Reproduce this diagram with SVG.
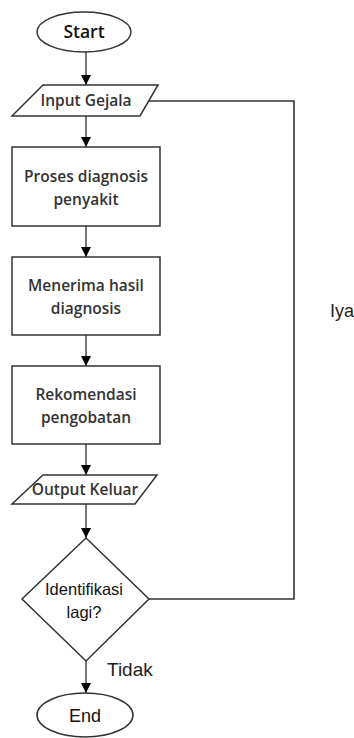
<svg xmlns="http://www.w3.org/2000/svg" width="354" height="738" viewBox="0 0 354 738">
<style>
.shape{fill:#fff;stroke:#333;stroke-width:1.5}
.conn{fill:none;stroke:#555;stroke-width:1.6}
.bt{font-family:"Open Sans",sans-serif;font-weight:600;font-size:15.5px;fill:#333;text-anchor:middle}
.big{font-family:"Open Sans",sans-serif;font-weight:600;font-size:17.5px;fill:#111;text-anchor:middle}
.rt{font-family:"Liberation Sans",Arial,sans-serif;font-size:16.5px;fill:#111;text-anchor:middle}
.lbl{font-family:"Liberation Sans",Arial,sans-serif;font-size:19px;fill:#222}
</style>
<defs>
<marker id="arr" viewBox="0 0 10 10" refX="10" refY="5" markerWidth="10" markerHeight="10" markerUnits="userSpaceOnUse" orient="auto">
<path d="M0,0 L10,5 L0,10 Z" fill="#000"/>
</marker>
</defs>
<g id="connectors">
<line class="conn" x1="86" y1="52" x2="86" y2="85" marker-end="url(#arr)"/>
<line class="conn" x1="86" y1="116" x2="86" y2="147" marker-end="url(#arr)"/>
<line class="conn" x1="86" y1="226" x2="86" y2="257" marker-end="url(#arr)"/>
<line class="conn" x1="86" y1="335" x2="86" y2="366" marker-end="url(#arr)"/>
<line class="conn" x1="86" y1="444" x2="86" y2="475" marker-end="url(#arr)"/>
<line class="conn" x1="86" y1="504" x2="86" y2="538" marker-end="url(#arr)"/>
<line class="conn" x1="86" y1="661" x2="86" y2="693" marker-end="url(#arr)"/>
<polyline class="conn" style="stroke:#333" points="149,599 294,599 294,101 149,101"/>
<text class="lbl" x="107" y="676">Tidak</text>
<text class="lbl" x="330" y="317" style="font-size:18px">Iya</text>
</g>
<g id="start">
<ellipse class="shape" cx="84" cy="32" rx="47" ry="20"/>
<text class="big" x="84" y="38">Start</text>
</g>
<g id="input">
<polygon class="shape" points="43,85 158,85 140,116 12,116"/>
<text class="bt" x="86" y="106">Input Gejala</text>
</g>
<g id="proses">
<rect class="shape" x="12" y="147" width="148" height="79"/>
<text class="bt" x="86" y="182">Proses diagnosis</text>
<text class="bt" x="86" y="205">penyakit</text>
</g>
<g id="menerima">
<rect class="shape" x="12" y="257" width="148" height="78"/>
<text class="bt" x="86" y="291">Menerima hasil</text>
<text class="bt" x="86" y="314">diagnosis</text>
</g>
<g id="rekomendasi">
<rect class="shape" x="12" y="366" width="148" height="78"/>
<text class="bt" x="86" y="400">Rekomendasi</text>
<text class="bt" x="86" y="423">pengobatan</text>
</g>
<g id="output">
<polygon class="shape" points="43,475 157,475 135,504 12,504"/>
<text class="bt" x="85" y="495">Output Keluar</text>
</g>
<g id="decision">
<polygon class="shape" points="86,538 149,599 86,661 22,599"/>
<text class="rt" x="84" y="595">Identifikasi</text>
<text class="rt" x="84" y="618">lagi?</text>
</g>
<g id="end">
<ellipse class="shape" cx="85" cy="715" rx="48" ry="22"/>
<text class="rt" x="85" y="722" style="font-size:18px">End</text>
</g>
</svg>
